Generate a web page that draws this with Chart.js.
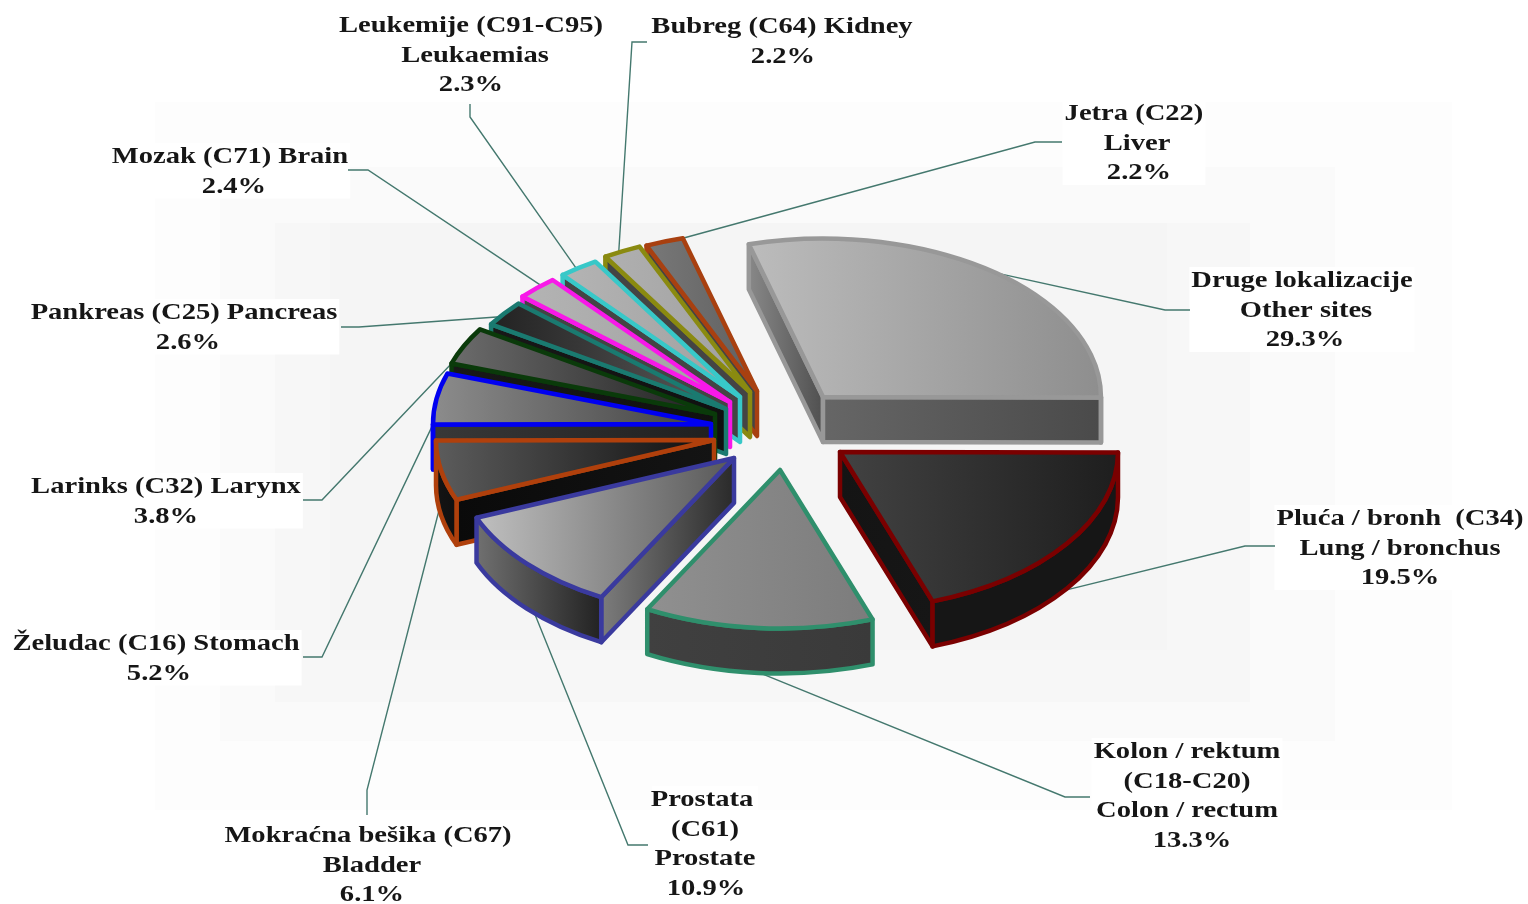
<!DOCTYPE html>
<html lang="en">
<head>
  <meta charset="UTF-8">
  <title>Incidencija raka</title>
  <script src="https://cdn.jsdelivr.net/npm/chart.js"></script>
  <style>
    html, body { margin: 0; padding: 0; background: #fff; }
    canvas { display: block; }
  </style>
</head>
<body>
  <canvas id="chart-1" width="1528" height="904"></canvas>
  <script>
    // data
    const categories = ['Other sites', 'Lung / bronchus', 'Colon / rectum', 'Prostate', 'Bladder', 'Stomach',
      'Larynx', 'Pancreas', 'Brain', 'Leukaemias', 'Kidney', 'Liver'];
    const values = [29.3, 19.5, 13.3, 10.9, 6.1, 5.2, 3.8, 2.6, 2.4, 2.3, 2.2, 2.2];
    const labelLines = [
      ['Druge lokalizacije', 'Other sites'],
      ['Pluća / bronh  (C34)', 'Lung / bronchus'],
      ['Kolon / rektum', '(C18-C20)', 'Colon / rectum'],
      ['Prostata', '(C61)', 'Prostate'],
      ['Mokraćna bešika (C67)', 'Bladder'],
      ['Želudac (C16) Stomach'],
      ['Larinks (C32) Larynx'],
      ['Pankreas (C25) Pancreas'],
      ['Mozak (C71) Brain'],
      ['Leukemije (C91-C95)', 'Leukaemias'],
      ['Bubreg (C64) Kidney'],
      ['Jetra (C22)', 'Liver']
    ];

    // layout and look
    const squash = 0.57, depth = 45, radius = 278;
    const sliceShift = [[43, -33], [60, 22], [0, 40], [-46, 28], [-66, 10], [-69, -6],
      [-65, -16], [-54, -21], [-50, -28], [-40, -33], [-30, -38], [-23, -39]];
    const borders = ['#989898', '#7a0000', '#2f8f6c', '#3a3a9e', '#b0400c', '#0000f0',
      '#0a3a0a', '#1a7a70', '#f818e8', '#38c8c8', '#8a8a10', '#a84010'];
    const topFill = [['#bcbcbc', '#8e8e8e'], ['#424242', '#1e1e1e'], ['#909090', '#7c7c7c'], ['#c0c0c0', '#585858'],
      ['#5c5c5c', '#0e0e0e'], ['#8c8c8c', '#404040'], ['#6c6c6c', '#202020'], ['#222222', '#5a5a5a'],
      ['#b4b4b4', '#a0a0a0'], ['#b4b4b4', '#a0a0a0'], ['#b0b0b0', '#a0a0a0'], ['#787878', '#606060']];
    const wallFill = [['#666666', '#4a4a4a'], ['#161616', '#161616'], ['#404040', '#3a3a3a'], ['#707070', '#222222'],
      ['#141414', '#101010'], ['#303030', '#303030'], ['#181818', '#101010'], ['#181818', '#101010'],
      ['#444444', '#444444'], ['#444444', '#444444'], ['#444444', '#444444'], ['#444444', '#444444']];
    const sideFill = [['#888888', '#505050'], ['#141414', '#161616'], ['#404040', '#3a3a3a'], ['#7c7c7c', '#2a2a2a'],
      ['#0a0a0a', '#141414'], ['#383838', '#202020'], ['#181818', '#101010'], ['#181818', '#101010'],
      ['#444444', '#444444'], ['#444444', '#444444'], ['#444444', '#444444'], ['#444444', '#444444']];
    // where each leader line meets its slice, as a fraction of the slice's sweep
    const leaderAt = [0.51, 0.51, 0.49, 0.44, 0.3, 0, 0, 0.35, 0.64, 0.44, 0.4, 1];
    const leaderElbow = [[1165, 310, 1190, 310], [1245, 546, 1275, 546], [1065, 797, 1090, 797], [628, 845, 648, 845],
      [367, 790, 367, 815], [322, 657, 303, 657], [322, 500, 303, 500], [359, 327, 341, 327],
      [368, 170, 348, 170], [470, 117, 470, 104], [632, 42, 647, 42], [1035, 142, 1062, 142]];
    const labelPos = [[1302, 287], [1400, 525], [1187, 758], [705, 806], [368, 842], [156, 650],
      [166, 493], [184, 319], [230, 163], [471, 32], [782, 33], [1134, 120]];
    // per line x nudge, the source's lines are not quite centred on each other
    const lineNudge = [[0, 4, 3], [0, 0, 0], [0, 0, 0, 5], [-3, 0, 0, 1], [0, 4, 4], [0, 3],
      [0, 0], [0, 4], [0, 4], [0, 4, 0], [0, 1], [0, 3, 5]];
    const lineGap = 29.5;
    const labelFont = 'bold 24px "Liberation Serif", serif';
    const textStretch = 1.19;
    // soft stepped backdrop: left, top, right, bottom, colour
    const backdrop = [[155, 102, 1452, 810, '#fdfdfd'], [220, 167, 1335, 741, '#fafafa'],
      [275, 223, 1250, 702, '#f7f7f7'], [330, 223, 1167, 650, '#f5f5f5']];

    function hGrad(ctx, x0, x1, stops) {
      const g = ctx.createLinearGradient(x0, 0, x1, 0);
      g.addColorStop(0, stops[0]);
      g.addColorStop(1, stops[1]);
      return g;
    }

    // scriptable slice fill, spans the slice's horizontal extent
    function topGradient(c) {
      const i = c.dataIndex, chart = c.chart, area = chart.chartArea;
      if (!area || i === undefined) return '#888888';
      const cx = (area.left + area.right) / 2;
      const total = values.reduce((s, v) => s + v, 0);
      let before = 0;
      for (let n = 0; n < i; n++) before += values[n];
      const start = (chart.options.rotation - 90) * Math.PI / 180;
      const a = start + before / total * Math.PI * 2;
      const b = a + values[i] / total * Math.PI * 2;
      const xs = [0, Math.cos(a) * radius, Math.cos(b) * radius];
      return hGrad(chart.ctx, cx + Math.min(...xs), cx + Math.max(...xs), topFill[i]);
    }

    const pie3d = {
      id: 'pie3d',
      beforeDatasetsDraw(chart) {
        const ctx = chart.ctx;
        const arcs = chart.getDatasetMeta(0).data;
        const cx = arcs[0].x, cy = arcs[0].y;
        const at = (t, r, dy) => [cx + Math.cos(t) * r, cy + Math.sin(t) * r * squash + (dy || 0)];

        // page background and white label boxes
        ctx.save();
        backdrop.forEach(([l, t, r, b, colour]) => {
          ctx.fillStyle = colour;
          ctx.fillRect(l, t, r - l, b - t);
        });
        ctx.font = labelFont;
        ctx.fillStyle = '#ffffff';
        labelLines.forEach((lines, i) => {
          const w = Math.max(...lines.map(l => ctx.measureText(l).width), 60) * textStretch;
          const [x, y] = labelPos[i];
          ctx.fillRect(x - w / 2 - 2, y - 20, w + 4, lines.length * lineGap + 26);
        });

        // leader lines
        ctx.strokeStyle = '#44786e';
        ctx.lineWidth = 1.4;
        arcs.forEach((arc, i) => {
          const t = arc.startAngle + (arc.endAngle - arc.startAngle) * leaderAt[i];
          const p = at(t, radius, Math.sin(t) > 0.3 ? depth : 0);
          const e = leaderElbow[i];
          ctx.beginPath();
          ctx.moveTo(p[0] + sliceShift[i][0], p[1] + sliceShift[i][1]);
          ctx.lineTo(e[0], e[1]);
          ctx.lineTo(e[2], e[3]);
          ctx.stroke();
        });
        ctx.restore();

        // back to front
        const order = arcs.map((_, i) => i).sort((p, q) =>
          Math.sin((arcs[p].startAngle + arcs[p].endAngle) / 2) - Math.sin((arcs[q].startAngle + arcs[q].endAngle) / 2));

        order.forEach(i => {
          const arc = arcs[i], a = arc.startAngle, b = arc.endAngle, r = arc.outerRadius;
          ctx.save();
          ctx.translate(sliceShift[i][0], sliceShift[i][1]);
          ctx.lineWidth = 4.5;
          ctx.lineJoin = 'round';
          ctx.strokeStyle = borders[i];

          const radial = (t, stops) => {
            const p = at(t, r);
            ctx.beginPath();
            ctx.moveTo(cx, cy);
            ctx.lineTo(p[0], p[1]);
            ctx.lineTo(p[0], p[1] + depth);
            ctx.lineTo(cx, cy + depth);
            ctx.closePath();
            ctx.fillStyle = hGrad(ctx, Math.min(cx, p[0]), Math.max(cx, p[0]), stops);
            ctx.fill();
            ctx.stroke();
          };
          if (Math.sin(a - Math.PI / 2) > 0) radial(a, sideFill[i]);
          if (Math.sin(b + Math.PI / 2) > 0) radial(b, i === 0 ? wallFill[i] : sideFill[i]);

          const lo = Math.max(a, 0), hi = Math.min(b, Math.PI);
          if (lo < hi) {
            ctx.beginPath();
            ctx.ellipse(cx, cy, r, r * squash, 0, lo, hi, false);
            ctx.ellipse(cx, cy + depth, r, r * squash, 0, hi, lo, true);
            ctx.closePath();
            ctx.fillStyle = hGrad(ctx, at(hi, r)[0], at(lo, r)[0], wallFill[i]);
            ctx.fill();
            ctx.stroke();
          }

          // top face comes from the library's own arc element
          ctx.save();
          ctx.translate(0, cy);
          ctx.scale(1, squash);
          ctx.translate(0, -cy);
          arc.draw(ctx);
          ctx.restore();

          ctx.beginPath();
          ctx.moveTo(cx, cy);
          ctx.ellipse(cx, cy, r, r * squash, 0, a, b, false);
          ctx.closePath();
          ctx.stroke();
          ctx.restore();
        });
        return false;
      },
      afterDraw(chart) {
        const ctx = chart.ctx;
        ctx.font = labelFont;
        ctx.fillStyle = '#161616';
        ctx.textAlign = 'center';
        labelLines.forEach((lines, i) => {
          const [x, y] = labelPos[i];
          lines.concat(values[i].toFixed(1) + '%').forEach((l, n) => {
            ctx.save();
            ctx.translate(x + lineNudge[i][n], y + n * lineGap);
            ctx.scale(textStretch, 1);
            ctx.fillText(l, 0, 0);
            ctx.restore();
          });
        });
      }
    };

    new Chart(document.getElementById('chart-1'), {
      type: 'pie',
      data: {
        labels: categories,
        datasets: [{ data: values, backgroundColor: topGradient, borderWidth: 0, radius: radius }]
      },
      options: {
        responsive: false,
        animation: false,
        rotation: 90 - values[0] * 3.6,
        layout: { padding: { left: 32, bottom: 44 } },
        plugins: { legend: { display: false }, tooltip: { enabled: false } }
      },
      plugins: [pie3d]
    });
  </script>
</body>
</html>
